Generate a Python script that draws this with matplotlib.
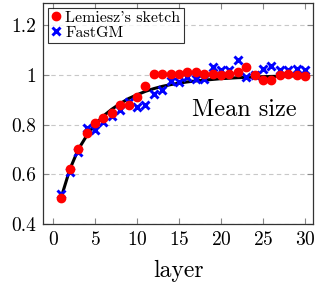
import matplotlib
matplotlib.use("Agg")
import matplotlib.pyplot as plt

plt.rcParams['font.family'] = 'serif'
plt.rcParams['font.serif'] = ['cmr10', 'DejaVu Serif']
plt.rcParams['mathtext.fontset'] = 'cm'
plt.rcParams['axes.formatter.use_mathtext'] = True

layers = list(range(1, 31))

lemiesz = [0.505, 0.62, 0.70, 0.765, 0.805, 0.825, 0.845, 0.88, 0.88, 0.91,
           0.955, 1.005, 1.005, 1.005, 1.005, 1.01, 1.01, 1.005, 1.005, 1.0,
           1.005, 1.01, 1.03, 1.0, 0.98, 0.98, 1.0, 1.005, 1.0, 0.995]

fastgm = [0.52, 0.61, 0.69, 0.785, 0.78, 0.81, 0.835, 0.86, 0.89, 0.87,
          0.88, 0.925, 0.94, 0.975, 0.97, 0.99, 0.985, 0.985, 1.03, 1.02,
          1.02, 1.06, 0.99, 1.0, 1.025, 1.035, 1.02, 1.02, 1.025, 1.02]

expected = [0.51, 0.62, 0.70, 0.755, 0.80, 0.835, 0.862, 0.885, 0.905, 0.92,
            0.934, 0.945, 0.954, 0.961, 0.967, 0.972, 0.976, 0.979, 0.982, 0.985,
            0.987, 0.989, 0.99, 0.992, 0.993, 0.994, 0.995, 0.996, 0.996, 0.997]

fig = plt.figure(figsize=(3.23, 2.92), dpi=100)
ax = fig.add_axes([0.133, 0.233, 0.836, 0.757])

ax.plot(layers, expected, color='black', lw=2.2, zorder=2)
ax.plot(layers, fastgm, 'x', color='blue', ms=5.8, mew=2.1, label='FastGM', zorder=3)
ax.plot(layers, lemiesz, 'o', color='red', ms=6.0, label="Lemiesz's sketch", zorder=4)

ax.set_xlim(-1.2, 30.95)
ax.set_ylim(0.4, 1.29)
ax.set_xticks([0, 5, 10, 15, 20, 25, 30])
ax.set_yticks([0.4, 0.6, 0.8, 1.0, 1.2])
ax.set_yticklabels(['0.4', '0.6', '0.8', '1', '1.2'])
ax.yaxis.grid(True, ls=(0, (4, 3)), color='#c8c8c8', lw=0.8)
ax.set_axisbelow(True)
ax.tick_params(direction='in', length=4, color='#888888', labelsize=14,
               top=True, right=True, pad=5)
for s in ax.spines.values():
    s.set_linewidth(0.9)
    s.set_color('#333333')

ax.set_xlabel('layer', fontsize=17, labelpad=8)
ax.text(0.94, 0.516, 'Mean size', transform=ax.transAxes, ha='right', va='center',
        fontsize=17.5)

handles, labels = ax.get_legend_handles_labels()
leg = ax.legend(handles[::-1], labels[::-1], loc='upper left', fontsize=11.5,
                frameon=True, fancybox=False, edgecolor='black',
                handlelength=0.6, handletextpad=0.3, borderpad=0.2,
                labelspacing=0.05, borderaxespad=0.3)
leg.get_frame().set_linewidth(0.8)

fig.savefig('out.png', dpi=100)
